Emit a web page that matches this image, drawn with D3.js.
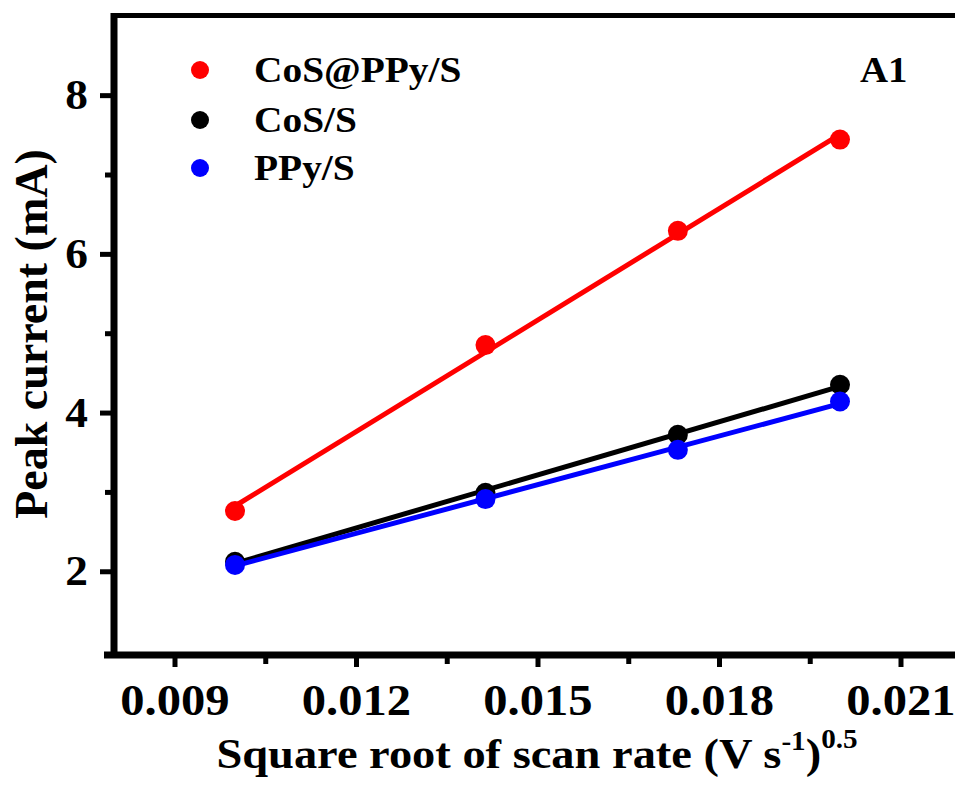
<!DOCTYPE html>
<html>
<head>
<meta charset="utf-8">
<script src="https://cdn.jsdelivr.net/npm/d3@7"></script>
<style>
  body { margin: 0; background: #fff; }
</style>
</head>
<body>
<svg id="chart" width="955" height="791"></svg>
<script>
// sqrt of scan rate (V/s)^0.5
var xVals = [0.01, 0.01414, 0.01732, 0.02];

// peak current (mA)
var cosPpyS = [2.76, 4.85, 6.29, 7.44];
var cosS = [2.12, 2.99, 3.72, 4.35];
var ppyS = [2.08, 2.91, 3.53, 4.14];

var seriesNames = ["CoS@PPy/S", "CoS/S", "PPy/S"];
var seriesValues = [cosPpyS, cosS, ppyS];
var colors = ["#ff0000", "#000000", "#0000ff"];

var xTicks = [0.009, 0.012, 0.015, 0.018, 0.021];
var xMinor = [0.0105, 0.0135, 0.0165, 0.0195];
var yTicks = [2, 4, 6, 8];
var yMinor = [3, 5, 7];

var FONT = "'Liberation Serif', Tinos, 'Nimbus Roman', 'Times New Roman', Times, serif";
var SX = 1.08; // the figure is slightly stretched sideways

var svg = d3.select("#chart");
svg.append("rect").attr("width", 955).attr("height", 791).attr("fill", "#fff");

var x = d3.scaleLinear().domain([0.008, 0.022]).range([114, 961]);
var y = d3.scaleLinear().domain([0.97, 9]).range([653, 15.8]);

// linear fit of each series
function fit(xs, ys) {
    var mx = d3.mean(xs), my = d3.mean(ys);
    var sxy = d3.sum(xs, function(d, i) { return (d - mx) * (ys[i] - my); });
    var sxx = d3.sum(xs, function(d) { return (d - mx) * (d - mx); });
    var k = sxy / sxx;
    return function(v) { return my + k * (v - mx); };
}

var plot = svg.append("g");
var lineGen = d3.line().x(function(d) { return x(d[0]); }).y(function(d) { return y(d[1]); });

seriesValues.forEach(function(vals, s) {
    var f = fit(xVals, vals);
    var ends = d3.extent(xVals);
    plot.append("path")
        .datum([[ends[0], f(ends[0])], [ends[1], f(ends[1])]])
        .attr("d", lineGen)
        .attr("fill", "none")
        .attr("stroke", colors[s])
        .attr("stroke-width", 5);
    plot.selectAll(null)
        .data(vals)
        .enter().append("circle")
        .attr("cx", function(d, i) { return x(xVals[i]); })
        .attr("cy", function(d) { return y(d); })
        .attr("r", 10)
        .attr("fill", colors[s]);
});

// axes
function styleAxis(g) {
    g.select(".domain").remove();
    g.selectAll(".tick line").attr("stroke", "#000").attr("stroke-width", 5);
}

var xAxis = svg.append("g").attr("transform", "translate(0,655)")
    .call(d3.axisBottom(x).tickValues(xTicks).tickSize(12).tickPadding(16)
        .tickFormat(d3.format(".3f")))
    .call(styleAxis);
xAxis.selectAll("text").attr("font-size", 45)
    .attr("transform", "scale(" + SX + ",1)");

svg.append("g").attr("transform", "translate(0,655)")
    .call(d3.axisBottom(x).tickValues(xMinor).tickSize(9).tickFormat(""))
    .call(styleAxis);

var yAxis = svg.append("g").attr("transform", "translate(114,0)")
    .call(d3.axisLeft(y).tickValues(yTicks).tickSize(14).tickPadding(12)
        .tickFormat(d3.format("d")))
    .call(styleAxis);
yAxis.selectAll("text").attr("font-size", 42)
    .attr("x", -26 / SX)
    .attr("transform", "scale(" + SX + ",1)");

svg.append("g").attr("transform", "translate(114,0)")
    .call(d3.axisLeft(y).tickValues(yMinor).tickSize(9).tickFormat(""))
    .call(styleAxis);

// frame lines
svg.append("line").attr("x1", 114).attr("x2", 114).attr("y1", 13).attr("y2", 658)
    .attr("stroke", "#000").attr("stroke-width", 7);
svg.append("line").attr("x1", 104).attr("x2", 961).attr("y1", 655).attr("y2", 655)
    .attr("stroke", "#000").attr("stroke-width", 7);
svg.append("line").attr("x1", 111).attr("x2", 961).attr("y1", 15.5).attr("y2", 15.5)
    .attr("stroke", "#000").attr("stroke-width", 5);

// axis titles
var xt = svg.append("text")
    .attr("transform", "translate(537,768) scale(" + SX + ",1)")
    .attr("text-anchor", "middle")
    .attr("font-size", 43);
xt.append("tspan").text("Square root of scan rate (V s");
xt.append("tspan").attr("font-size", 27).attr("dy", -18).text("-1");
xt.append("tspan").attr("dy", 18).text(")");
xt.append("tspan").attr("font-size", 27).attr("dy", -20).text("0.5");

svg.append("text")
    .attr("transform", "translate(47,334) rotate(-90)")
    .attr("text-anchor", "middle")
    .attr("font-size", 46)
    .text("Peak current (mA)");

// legend
var legend = svg.append("g");
var legY = [70, 120, 168];
seriesNames.forEach(function(name, i) {
    legend.append("circle").attr("cx", 200).attr("cy", legY[i]).attr("r", 9).attr("fill", colors[i]);
    legend.append("text")
        .attr("transform", "translate(254," + (legY[i] + 12) + ") scale(" + SX + ",1)")
        .attr("font-size", 36.5)
        .text(name);
});

svg.append("text")
    .attr("transform", "translate(860,82) scale(" + SX + ",1)")
    .attr("font-size", 36)
    .text("A1");

svg.selectAll("text")
    .style("font-family", FONT)
    .style("font-weight", "bold")
    .attr("fill", "#000");
</script>
</body>
</html>
